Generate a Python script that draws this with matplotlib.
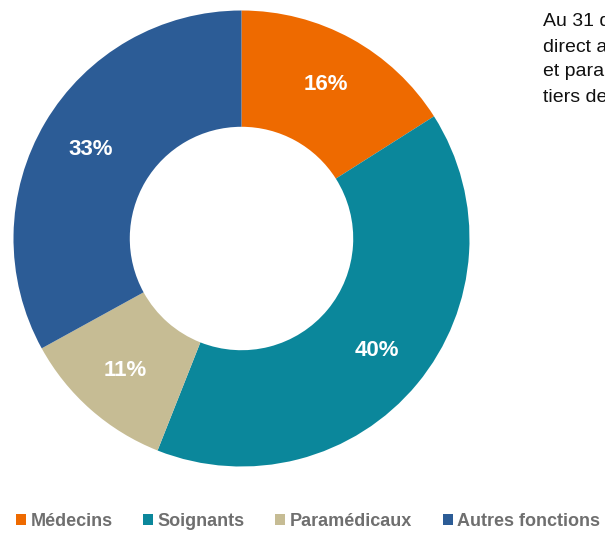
import matplotlib
matplotlib.use("Agg")
import matplotlib.pyplot as plt
from matplotlib.patches import Patch
import numpy as np

categories = ["Médecins", "Soignants", "Paramédicaux", "Autres fonctions"]
values = [16, 40, 11, 33]
colors = ["#EE6A00", "#0B879B", "#C6BC94", "#2C5C96"]
side_text = ["Au 31 décembre", "direct avec les", "et paramédicaux", "tiers des effectifs"]

font = "Liberation Sans"

W, H = 605, 534
fig = plt.figure(figsize=(W / 100, H / 100), dpi=100)
cx, cy, R = 241.5, 238.5, 228
ax = fig.add_axes([(cx - R) / W, (H - cy - R) / H, 2 * R / W, 2 * R / H])
wedges, texts = ax.pie(values, colors=colors, startangle=90, counterclock=False,
                       radius=1.0, wedgeprops=dict(width=0.51, edgecolor="none"))
for v, w in zip(values, wedges):
    mid = np.deg2rad((w.theta1 + w.theta2) / 2)
    r = 0.77
    ax.text(r * np.cos(mid), r * np.sin(mid), f"{v}%", ha="center", va="center",
            color="white", fontsize=16, fontweight="bold", family=font)
ax.set_xlim(-1, 1)
ax.set_ylim(-1, 1)
ax.set_aspect("equal")
ax.axis("off")

for i, line in enumerate(side_text):
    fig.text(543 / W, 1 - (22 + 25 * i) / H, line, ha="left", va="center",
             fontsize=14, family=font, color="#111111")

handles = [Patch(facecolor=c, edgecolor="none") for c in colors]
leg = fig.legend(handles, categories, loc="center", bbox_to_anchor=(308 / W, 1 - 521 / H),
                 ncol=4, frameon=False, handlelength=0.55, handleheight=0.55,
                 handletextpad=0.25, columnspacing=1.7, borderpad=0, borderaxespad=0,
                 prop=dict(family=font, weight="bold", size=13))
for t in leg.get_texts():
    t.set_color("#6F6F6F")

fig.savefig("out.png", dpi=100, facecolor="white")
